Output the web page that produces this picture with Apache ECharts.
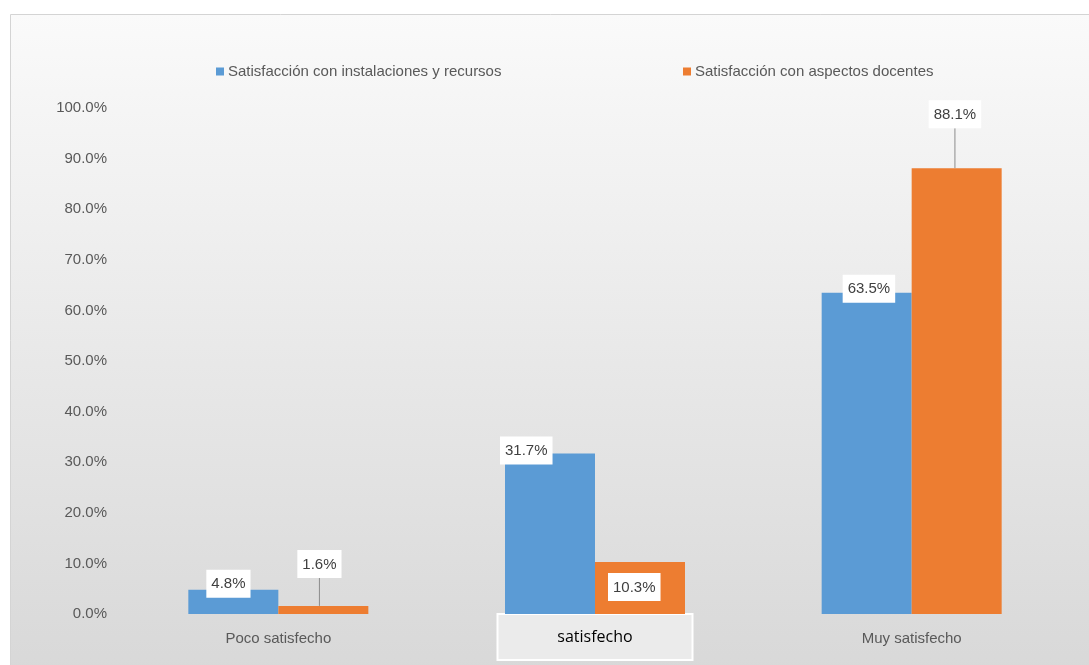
<!DOCTYPE html>
<html>
<head>
<meta charset="utf-8">
<script src="https://cdn.jsdelivr.net/npm/echarts@6/dist/echarts.min.js"></script>
<style>
  html, body { margin: 0; padding: 0; background: #fff; }
  #main { width: 1089px; height: 665px; }
</style>
</head>
<body>
<div id="main"></div>
<script>
var categories = ['Poco satisfecho', 'satisfecho', 'Muy satisfecho'];
var seriesNames = ['Satisfacción con instalaciones y recursos', 'Satisfacción con aspectos docentes'];
var instalaciones = [4.8, 31.7, 63.5];
var docentes = [1.6, 10.3, 88.1];

var font = '"Liberation Sans Narrow", "Liberation Sans", sans-serif';

// label placement per bar (relative to bar top-left)
var bluePos = [[18, -20], [-5, -17], [21, -18]];
var orangePos = [[19, -56], [13, 11], [17, -68]];
var orangeLine = [true, false, true];

var myChart = echarts.init(document.getElementById('main'));

var labelBox = {
  show: true,
  formatter: function (p) { return p.value.toFixed(1) + '%'; },
  backgroundColor: '#fff',
  padding: [7, 5, 6, 5],
  color: '#404040',
  fontFamily: font,
  fontSize: 15
};

function buildData(vals, pos, lines) {
  return vals.map(function (v, i) {
    var item = { value: v, label: { position: pos[i] } };
    if (lines) {
      item.labelLine = { show: lines[i], lineStyle: { color: '#8c8c8c', width: 1 } };
    }
    return item;
  });
}

option = {
  backgroundColor: '#fff',
  animation: false,
  graphic: [{
    type: 'rect',
    z: -10,
    shape: { x: 10.5, y: 14.5, width: 1100, height: 700 },
    style: {
      fill: new echarts.graphic.LinearGradient(0, 0, 0, 1, [
        { offset: 0, color: '#fafafa' },
        { offset: 1, color: '#d6d6d6' }
      ]),
      stroke: '#d4d4d4',
      lineWidth: 1
    }
  }],
  legend: [{
    data: [seriesNames[0]],
    left: 211, top: 59,
    icon: 'rect', itemWidth: 8, itemHeight: 8, itemGap: 4,
    textStyle: { color: '#595959', fontFamily: font, fontSize: 15, padding: [0, 0, 0, -1] }
  }, {
    data: [seriesNames[1]],
    left: 678, top: 59,
    icon: 'rect', itemWidth: 8, itemHeight: 8, itemGap: 4,
    textStyle: { color: '#595959', fontFamily: font, fontSize: 15, padding: [0, 0, 0, -1] }
  }],
  grid: { left: 120, right: 19, top: 108, bottom: 51 },
  xAxis: {
    type: 'category',
    data: categories,
    axisLine: { show: false },
    axisTick: { show: false },
    axisLabel: {
      margin: 1,
      interval: 0,
      formatter: function (v) {
        return v === 'satisfecho' ? '{box|' + v + '}' : '{plain|' + v + '}';
      },
      rich: {
        plain: { color: '#595959', fontFamily: font, fontSize: 15, height: 48, align: 'center' },
        box: {
          color: '#000', fontFamily: '"Open Sans", "Liberation Sans", sans-serif', fontSize: 16,
          backgroundColor: '#ebebeb', borderColor: '#fff', borderWidth: 2,
          width: 193, height: 44, align: 'center'
        }
      }
    }
  },
  yAxis: {
    type: 'value',
    min: 0,
    max: 100,
    interval: 10,
    axisLine: { show: false },
    axisTick: { show: false },
    splitLine: { show: false },
    axisLabel: {
      margin: 13,
      color: '#595959',
      fontFamily: font,
      fontSize: 15,
      formatter: function (v) { return v.toFixed(1) + '%'; }
    }
  },
  series: [{
    name: seriesNames[0],
    type: 'bar',
    barWidth: 90,
    barGap: '0%',
    itemStyle: { color: '#5b9bd5' },
    label: labelBox,
    data: buildData(instalaciones, bluePos)
  }, {
    name: seriesNames[1],
    type: 'bar',
    barWidth: 90,
    barGap: '0%',
    itemStyle: { color: '#ed7d31' },
    label: labelBox,
    labelLine: { show: false },
    data: buildData(docentes, orangePos, orangeLine)
  }]
};
myChart.setOption(option);
</script>
</body>
</html>
